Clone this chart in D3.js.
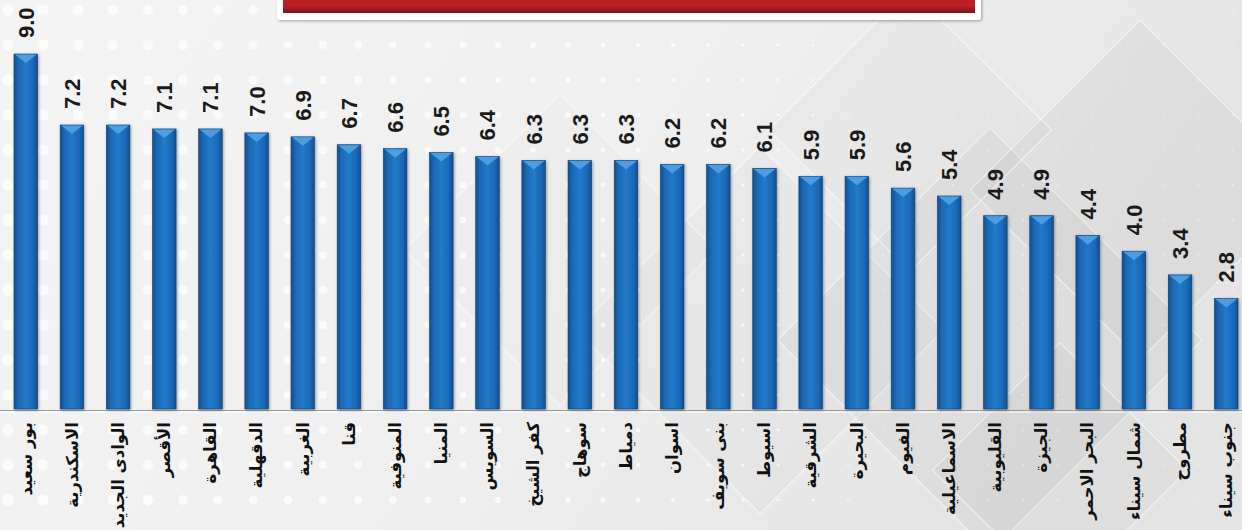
<!DOCTYPE html>
<html>
<head>
<meta charset="utf-8">
<script src="https://cdn.jsdelivr.net/npm/d3@7"></script>
<style>
  html, body { margin: 0; padding: 0; background: #eeeeee; overflow: hidden; }
  svg { display: block; }
</style>
</head>
<body>
<div id="chart"></div>
<script>
// governorates, in drawing order (left to right)
const categories = [
  "بور سعيد", "الاسكندرية", "الوادى الجديد", "الأقصر", "القاهرة", "الدقهلية",
  "الغربية", "قنا", "المنوفية", "المنيا", "السويس", "كفر الشيخ", "سوهاج",
  "دمياط", "اسوان", "بنى سويف", "اسيوط", "الشرقية", "البحيرة", "الفيوم",
  "الاسماعيلية", "القليوبية", "الجيزة", "البحر الاحمر", "شمال سيناء",
  "مطروح", "جنوب سيناء"
];
const values = [
  9.0, 7.2, 7.2, 7.1, 7.1, 7.0, 6.9, 6.7, 6.6, 6.5, 6.4, 6.3, 6.3,
  6.3, 6.2, 6.2, 6.1, 5.9, 5.9, 5.6, 5.4, 4.9, 4.9, 4.4, 4.0, 3.4, 2.8
];

const width = 1242;
const height = 530;
const baseY = 409;

const svg = d3.select("#chart")
  .append("svg")
  .attr("width", width)
  .attr("height", height);

const defs = svg.append("defs");

// background gradient
const bg = defs.append("linearGradient").attr("id", "bg")
  .attr("x1", "0").attr("y1", "0").attr("x2", "1").attr("y2", "0.3");
bg.append("stop").attr("offset", "0%").attr("stop-color", "#f4f4f4");
bg.append("stop").attr("offset", "55%").attr("stop-color", "#efefef");
bg.append("stop").attr("offset", "100%").attr("stop-color", "#e4e4e4");

// bar gradient
const barGrad = defs.append("linearGradient").attr("id", "barGrad")
  .attr("x1", "0").attr("y1", "0").attr("x2", "1").attr("y2", "0");
barGrad.append("stop").attr("offset", "0%").attr("stop-color", "#124f8f");
barGrad.append("stop").attr("offset", "18%").attr("stop-color", "#1a68b5");
barGrad.append("stop").attr("offset", "50%").attr("stop-color", "#2179c9");
barGrad.append("stop").attr("offset", "82%").attr("stop-color", "#1a68b5");
barGrad.append("stop").attr("offset", "100%").attr("stop-color", "#124f8f");

const redGrad = defs.append("linearGradient").attr("id", "redGrad")
  .attr("x1", "0").attr("y1", "0").attr("x2", "0").attr("y2", "1");
redGrad.append("stop").attr("offset", "0%").attr("stop-color", "#c3222a");
redGrad.append("stop").attr("offset", "70%").attr("stop-color", "#b81f26");
redGrad.append("stop").attr("offset", "100%").attr("stop-color", "#7d1116");

const shadow = defs.append("filter").attr("id", "shadow")
  .attr("x", "-30%").attr("y", "-10%").attr("width", "160%").attr("height", "130%");
shadow.append("feDropShadow").attr("dx", 1).attr("dy", 1)
  .attr("stdDeviation", 1.5).attr("flood-color", "#000").attr("flood-opacity", 0.35);

// background
svg.append("rect").attr("width", width).attr("height", height).attr("fill", "url(#bg)");

// decorative diamonds
const deco = svg.append("g");
[[760, 330, 260, 0.015], [990, 340, 300, 0.03], [1140, 190, 240, 0.03],
 [910, 130, 200, 0.015], [560, 250, 220, 0.012], [1060, 470, 180, 0.025]].forEach(d => {
  deco.append("rect")
    .attr("x", -d[2] / 2).attr("y", -d[2] / 2)
    .attr("width", d[2]).attr("height", d[2])
    .attr("transform", `translate(${d[0]},${d[1]}) rotate(45)`)
    .attr("fill", "#000").attr("fill-opacity", d[3])
    .attr("stroke", "#fff").attr("stroke-opacity", 0.45).attr("stroke-width", 1.5);
});

// white dot pattern
for (let gx = 8; gx < width; gx += 35) {
  for (let gy = 10; gy < height; gy += 35) {
    const r = Math.max(0.8, 6 - gx / 170);
    deco.append("circle").attr("cx", gx).attr("cy", gy).attr("r", r)
      .attr("fill", "#fff").attr("fill-opacity", 0.7);
  }
}

// title banner (top, cut off)
svg.append("rect")
  .attr("x", 277).attr("y", -10).attr("width", 704).attr("height", 30)
  .attr("rx", 3).attr("fill", "#fff").attr("filter", "url(#shadow)");
svg.append("rect")
  .attr("x", 283).attr("y", -10).attr("width", 692).attr("height", 23)
  .attr("fill", "url(#redGrad)");

// scales
const x = d3.scaleBand()
  .domain(categories)
  .range([14, 1238])
  .paddingInner(0.49)
  .paddingOuter(0);

const y = d3.scaleLinear()
  .domain([0, 9])
  .range([baseY, 54]);

// baseline
svg.append("line")
  .attr("x1", 0).attr("x2", width)
  .attr("y1", baseY + 1.5).attr("y2", baseY + 1.5)
  .attr("stroke", "#9a9a9a").attr("stroke-width", 1.2);
svg.append("line")
  .attr("x1", 0).attr("x2", width)
  .attr("y1", baseY + 3).attr("y2", baseY + 3)
  .attr("stroke", "#ffffff").attr("stroke-width", 1.2);

const data = categories.map((c, i) => ({ name: c, value: values[i] }));

const bars = svg.append("g").selectAll("g")
  .data(data)
  .enter()
  .append("g");

bars.append("rect")
  .attr("x", d => x(d.name))
  .attr("y", d => y(d.value))
  .attr("width", x.bandwidth())
  .attr("height", d => baseY - y(d.value))
  .attr("fill", "url(#barGrad)")
  .attr("stroke", "#0f3f70").attr("stroke-width", 0.6)
  .attr("filter", "url(#shadow)");

// lighter bevel triangle at bar top
bars.append("path")
  .attr("d", d => {
    const x0 = x(d.name), x1 = x0 + x.bandwidth(), yt = y(d.value);
    return `M${x0 + 1},${yt + 0.5} L${x1 - 1},${yt + 0.5} L${(x0 + x1) / 2},${yt + 9} Z`;
  })
  .attr("fill", "#4d9de2");

// value labels
bars.append("text")
  .attr("transform", d => `translate(${x(d.name) + x.bandwidth() / 2},${y(d.value) - 16}) rotate(-90)`)
  .attr("dy", "0.36em")
  .attr("text-anchor", "start")
  .attr("font-family", "Liberation Sans, Arial, sans-serif")
  .attr("font-weight", "bold")
  .attr("font-size", 22)
  .attr("fill", "#1a1a1a")
  .text(d => d.value.toFixed(1));

// category labels
svg.append("g").selectAll("text")
  .data(data)
  .enter()
  .append("text")
  .attr("transform", d => `translate(${x(d.name) + x.bandwidth() / 2},${baseY + 13}) rotate(-90)`)
  .attr("direction", "rtl")
  .attr("text-anchor", "start")
  .attr("dy", "0.35em")
  .attr("font-family", "DejaVu Sans, sans-serif")
  .attr("font-weight", "bold")
  .attr("font-size", 16.5)
  .attr("fill", "#111")
  .text(d => d.name);
</script>
</body>
</html>
